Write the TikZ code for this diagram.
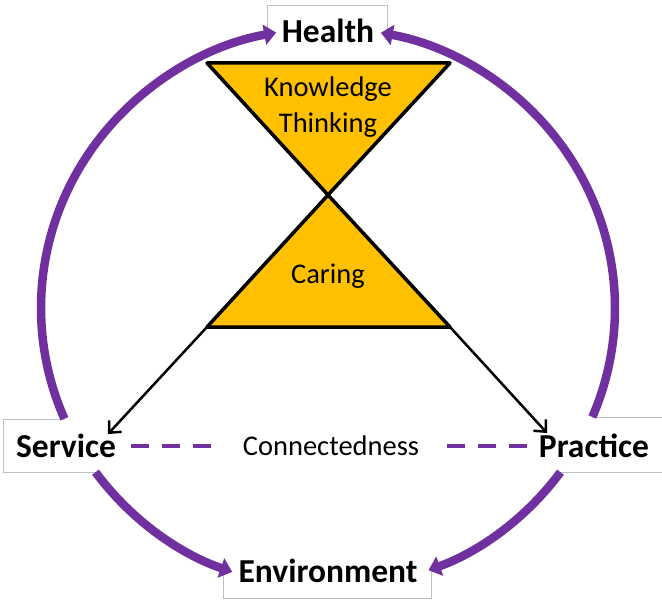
\documentclass[tikz,border=0pt]{standalone}
\usepackage{fontspec}
\setmainfont{Carlito}
\usetikzlibrary{arrows.meta}
\definecolor{vio}{HTML}{7030A0}
\definecolor{gold}{HTML}{FFC000}
\definecolor{boxgray}{HTML}{BFBFBF}
\begin{document}
\begin{tikzpicture}[x=1pt,y=1pt,
  frame/.style={draw=boxgray,line width=1pt,fill=white},
  ring/.style={draw=vio,line width=8.5pt,-{Triangle[length=12pt,width=20pt]}},
  tri/.style={draw=black,line width=3.5pt,fill=gold,line join=round},
  pointer/.style={draw=black,line width=2.5pt,-{Straight Barb[length=9pt,width=17pt]}},
  dashline/.style={draw=vio,line width=4pt,dash pattern=on 18pt off 13pt},
  big/.style={font=\fontsize{33.5}{40}\selectfont\bfseries,inner sep=0pt,anchor=base},
  small/.style={font=\fontsize{28.5}{34}\selectfont,inner sep=0pt,anchor=base}]
\useasboundingbox (0,0) rectangle (662,-602);
\fill[white] (0,0) rectangle (662,-602);
% label frames (partly hidden by the white disc)
\draw[frame] (267,-6) rectangle (387,-62);
\draw[frame] (223,-550) rectangle (431,-598);
\draw[frame] (3,-419) rectangle (130,-472);
\draw[frame] (530,-417) rectangle (664,-472);
% white disc
\fill[white] (328,-308) ellipse [x radius=287, y radius=280];
% ring arcs
\draw[ring] (328,-308) ++(203.3:287 and 280) arc[start angle=203.3, end angle=100.4, x radius=287, y radius=280];
\draw[ring] (328,-308) ++(215.9:287 and 280) arc[start angle=215.9, end angle=250.5, x radius=287, y radius=280];
\draw[ring] (328,-308) ++(-22.9:287 and 280) arc[start angle=-22.9, end angle=79.4, x radius=287, y radius=280];
\draw[ring] (328,-308) ++(-35.9:287 and 280) arc[start angle=-35.9, end angle=-69.5, x radius=287, y radius=280];
% pointers
\coordinate (bl) at (207,-327);
\coordinate (br) at (450,-327);
\coordinate (svtip) at (108,-434);
\coordinate (prtip) at (547,-433);
\draw[pointer] (bl) -- (svtip);
\draw[pointer] (br) -- (prtip);
% hourglass
\draw[tri] (207,-63) -- (450,-63) -- (328,-195) -- cycle;
\draw[tri] (328,-195) -- (bl) -- (br) -- cycle;
% texts
\node[big] (health) at (328,-43) {Health};
\node[big] (service) at (66,-457) {Service};
\node[big] (practice) at (594,-457) {Practice};
\node[big] (environment) at (328,-582) {Environment};
\node[small] (knowledge) at (328,-97) {Knowledge};
\node[small] (thinking) at (328,-132) {Thinking};
\node[small] (caring) at (328,-283) {Caring};
\node[small] (conn) at (331,-455) {Connectedness};
% dashed links
\coordinate (d1a) at (131,-446);
\coordinate (d1b) at (211,-446);
\coordinate (d2a) at (447,-446);
\coordinate (d2b) at (527,-446);
\draw[dashline] (d1a) -- (d1b);
\draw[dashline] (d2a) -- (d2b);
\end{tikzpicture}
\end{document}
